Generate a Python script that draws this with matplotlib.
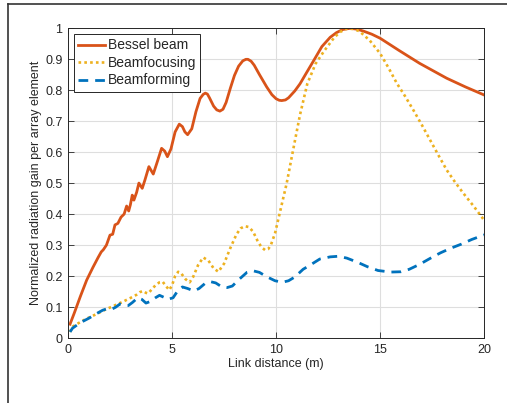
import matplotlib
matplotlib.use("Agg")
import matplotlib.pyplot as plt
from matplotlib.lines import Line2D

# Bessel beam (solid)
bessel_x = [0.1, 0.3, 0.6, 0.9, 1.2, 1.45, 1.6, 1.7, 1.85, 2.02, 2.15, 2.26, 2.4, 2.55,
            2.7, 2.82, 2.92, 3.0, 3.09, 3.17, 3.3, 3.41, 3.57, 3.7, 3.89, 4.1, 4.3, 4.5,
            4.65, 4.78, 4.95, 5.15, 5.35, 5.5, 5.62, 5.75, 5.95, 6.15, 6.35, 6.5, 6.6,
            6.7, 6.8, 7.0, 7.15, 7.3, 7.45, 7.6, 7.8, 8.0, 8.2, 8.4, 8.55, 8.65, 8.8,
            8.95, 9.2, 9.55, 9.8, 10.0, 10.15, 10.27, 10.45, 10.6, 10.9, 11.15, 11.5,
            11.8, 12.2, 12.6, 12.9, 13.2, 13.56, 13.9, 14.2, 14.6, 15.0, 15.9, 16.9,
            18.2, 19.1, 20.0]
bessel_y = [0.045, 0.08, 0.135, 0.187, 0.228, 0.26, 0.278, 0.285, 0.3, 0.332, 0.335,
            0.365, 0.37, 0.39, 0.4, 0.426, 0.41, 0.43, 0.461, 0.445, 0.47, 0.5, 0.483,
            0.51, 0.553, 0.529, 0.57, 0.612, 0.603, 0.585, 0.61, 0.665, 0.69, 0.682,
            0.665, 0.656, 0.675, 0.73, 0.773, 0.786, 0.79, 0.787, 0.775, 0.748, 0.736,
            0.732, 0.738, 0.76, 0.805, 0.847, 0.877, 0.894, 0.899, 0.899, 0.893, 0.88,
            0.85, 0.81, 0.785, 0.772, 0.767, 0.766, 0.768, 0.775, 0.797, 0.82, 0.86,
            0.894, 0.94, 0.97, 0.985, 0.995, 0.999, 0.996, 0.99, 0.98, 0.967, 0.928,
            0.886, 0.838, 0.81, 0.784]

# Beamfocusing (dotted)
focus_x = [0.1, 0.22, 0.5, 0.87, 1.2, 1.5, 1.8, 2.0, 2.3, 2.63, 2.9, 3.11, 3.3, 3.45,
           3.6, 3.75, 3.85, 4.0, 4.2, 4.4, 4.55, 4.72, 4.87, 5.0, 5.15, 5.3, 5.45, 5.65,
           5.85, 6.02, 6.25, 6.5, 6.75, 7.0, 7.23, 7.5, 7.8, 8.1, 8.3, 8.5, 8.7, 8.9,
           9.1, 9.3, 9.47, 9.62, 9.75, 9.95, 10.2, 10.51, 10.8, 11.15, 11.5, 11.9, 12.3,
           12.8, 13.1, 13.4, 13.7, 14.0, 14.5, 15.0, 15.4, 15.8, 16.2, 16.6, 17.0, 17.4,
           17.8, 18.2, 18.6, 19.0, 19.5, 20.0]
focus_y = [0.02, 0.037, 0.048, 0.062, 0.072, 0.082, 0.092, 0.098, 0.107, 0.117, 0.126,
           0.133, 0.14, 0.148, 0.152, 0.146, 0.144, 0.155, 0.17, 0.18, 0.182, 0.167,
           0.155, 0.17, 0.2, 0.214, 0.208, 0.19, 0.18, 0.198, 0.235, 0.26, 0.25, 0.225,
           0.214, 0.24, 0.29, 0.335, 0.354, 0.361, 0.358, 0.343, 0.315, 0.293, 0.284,
           0.287, 0.3, 0.338, 0.41, 0.499, 0.6, 0.72, 0.82, 0.885, 0.925, 0.97, 0.988,
           0.998, 0.997, 0.99, 0.96, 0.918, 0.872, 0.822, 0.78, 0.735, 0.688, 0.639,
           0.59, 0.542, 0.503, 0.467, 0.425, 0.38]

# Beamforming (dashed)
form_x = [0.1, 0.22, 0.6, 1.03, 1.4, 1.67, 1.9, 2.1, 2.3, 2.5, 2.7, 2.9, 3.1, 3.35,
          3.55, 3.75, 3.95, 4.2, 4.4, 4.6, 4.8, 5.05, 5.3, 5.5, 5.75, 6.05, 6.3, 6.6,
          6.85, 7.1, 7.4, 7.65, 7.9, 8.2, 8.6, 8.9, 9.2, 9.55, 9.95, 10.3, 10.6, 10.9,
          11.3, 11.65, 12.1, 12.6, 13.0, 13.4, 13.9, 14.4, 14.9, 15.5, 16.0, 16.4,
          16.9, 17.4, 17.9, 18.4, 18.9, 19.4, 20.0]
form_y = [0.02, 0.032, 0.05, 0.065, 0.08, 0.09, 0.095, 0.093, 0.1, 0.11, 0.105, 0.105,
          0.115, 0.13, 0.125, 0.113, 0.118, 0.13, 0.138, 0.132, 0.125, 0.13, 0.155,
          0.165, 0.16, 0.152, 0.16, 0.177, 0.182, 0.178, 0.165, 0.163, 0.168, 0.188,
          0.212, 0.217, 0.212, 0.198, 0.185, 0.18, 0.185, 0.197, 0.222, 0.236, 0.255,
          0.262, 0.264, 0.258, 0.245, 0.23, 0.218, 0.213, 0.214, 0.222, 0.238, 0.257,
          0.275, 0.29, 0.303, 0.318, 0.333]

x_ticks = [0, 5, 10, 15, 20]
y_ticks = [0, 0.1, 0.2, 0.3, 0.4, 0.5, 0.6, 0.7, 0.8, 0.9, 1]
y_labels = ["0", "0.1", "0.2", "0.3", "0.4", "0.5", "0.6", "0.7", "0.8", "0.9", "1"]

plt.rcParams["font.family"] = ["Liberation Sans", "DejaVu Sans"]
text_color = "#262626"

fig = plt.figure(figsize=(5.07, 4.03), dpi=100)
ax = fig.add_axes([0.134, 0.161, 0.821, 0.7695])

ax.plot(bessel_x, bessel_y, color="#D95319", lw=2.0, label="Bessel beam")
ax.plot(focus_x, focus_y, color="#EDB120", lw=1.9, ls=(0, (1, 1.2)), label="Beamfocusing")
ax.plot(form_x, form_y, color="#0072BD", lw=2.0, ls=(0, (3.5, 2.5)), label="Beamforming")

ax.set_xlim(0, 20)
ax.set_ylim(0, 1)
ax.set_xticks(x_ticks)
ax.set_yticks(y_ticks)
ax.set_yticklabels(y_labels)
ax.grid(True, color="#dedede", lw=0.8)
ax.set_axisbelow(True)
ax.tick_params(direction="in", top=True, right=True, length=4, width=0.6,
               labelsize=9, colors=text_color, pad=4)
for s in ax.spines.values():
    s.set_color(text_color)
    s.set_linewidth(0.7)

ax.set_xlabel("Link distance (m)", fontsize=9, color=text_color, labelpad=2)
ax.set_ylabel("Normalized radiation gain per array element", fontsize=9,
              color=text_color, labelpad=2)

leg = ax.legend(loc="upper left", fontsize=10, fancybox=False, framealpha=1,
                edgecolor=text_color, borderpad=0.3, labelspacing=0.25,
                handlelength=1.9, handletextpad=0.2, borderaxespad=0.45)
leg.get_frame().set_linewidth(0.7)
for t in leg.get_texts():
    t.set_color(text_color)

# outer frame fragment (top and left edge)
fig.add_artist(Line2D([8 / 507, 1], [1 - 4 / 403, 1 - 4 / 403], color="#333333", lw=1.2))
fig.add_artist(Line2D([8 / 507, 8 / 507], [0, 1 - 4 / 403], color="#333333", lw=1.2))

fig.savefig("out.png", dpi=100)
